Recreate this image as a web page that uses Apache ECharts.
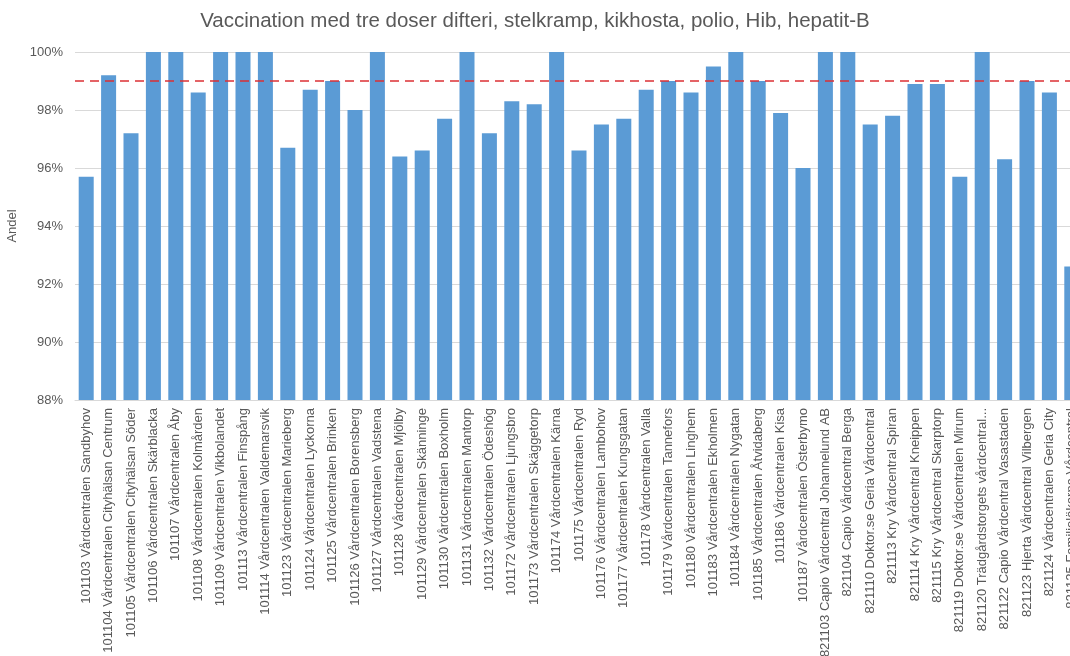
<!DOCTYPE html>
<html>
<head>
<meta charset="utf-8">
<script src="https://cdn.jsdelivr.net/npm/echarts@6/dist/echarts.min.js"></script>
<style>
	html, body { margin: 0; padding: 0; background: #fff; }
	#chart { width: 1070px; height: 656px; }
</style>
</head>
<body>
<div id="chart"></div>
<script>
var titleText = 'Vaccination med tre doser difteri, stelkramp, kikhosta, polio, Hib, hepatit-B';
var categories = [
	'101103 Vårdcentralen Sandbyhov',
	'101104 Vårdcentralen Cityhälsan Centrum',
	'101105 Vårdcentralen Cityhälsan Söder',
	'101106 Vårdcentralen Skärblacka',
	'101107 Vårdcentralen Åby',
	'101108 Vårdcentralen Kolmården',
	'101109 Vårdcentralen Vikbolandet',
	'101113 Vårdcentralen Finspång',
	'101114 Vårdcentralen Valdemarsvik',
	'101123 Vårdcentralen Marieberg',
	'101124 Vårdcentralen Lyckorna',
	'101125 Vårdcentralen Brinken',
	'101126 Vårdcentralen Borensberg',
	'101127 Vårdcentralen Vadstena',
	'101128 Vårdcentralen Mjölby',
	'101129 Vårdcentralen Skänninge',
	'101130 Vårdcentralen Boxholm',
	'101131 Vårdcentralen Mantorp',
	'101132 Vårdcentralen Ödeshög',
	'101172 Vårdcentralen Ljungsbro',
	'101173 Vårdcentralen Skäggetorp',
	'101174 Vårdcentralen Kärna',
	'101175 Vårdcentralen Ryd',
	'101176 Vårdcentralen Lambohov',
	'101177 Vårdcentralen Kungsgatan',
	'101178 Vårdcentralen Valla',
	'101179 Vårdcentralen Tannefors',
	'101180 Vårdcentralen Linghem',
	'101183 Vårdcentralen Ekholmen',
	'101184 Vårdcentralen Nygatan',
	'101185 Vårdcentralen Åtvidaberg',
	'101186 Vårdcentralen Kisa',
	'101187 Vårdcentralen Österbymo',
	'821103 Capio Vårdcentral Johannelund AB',
	'821104 Capio Vårdcentral Berga',
	'821110 Doktor.se Geria Vårdcentral',
	'821113 Kry Vårdcentral Spiran',
	'821114 Kry Vårdcentral Kneippen',
	'821115 Kry Vårdcentral Skarptorp',
	'821119 Doktor.se Vårdcentralen Mirum',
	'821120 Trädgårdstorgets vårdcentral...',
	'821122 Capio Vårdcentral Vasastaden',
	'821123 Hjerta Vårdcentral Vilbergen',
	'821124 Vårdcentralen Geria City',
	'821125 Familjeläkarna Vårdcentral'
];
var andel = [
	95.7, 99.2, 97.2, 100, 100, 98.6, 100, 100, 100, 96.7,
	98.7, 99.0, 98.0, 100, 96.4, 96.6, 97.7, 100, 97.2, 98.3,
	98.2, 100, 96.6, 97.5, 97.7, 98.7, 99.0, 98.6, 99.5, 100,
	99.0, 97.9, 96.0, 100, 100, 97.5, 97.8, 98.9, 98.9, 95.7,
	100, 96.3, 99.0, 98.6, 92.6
];
var targetLevel = 99;
var yTicks = { min: 88, max: 100, step: 2 };

var textColor = '#595959';
var fontFam = '"Liberation Sans", Arial, sans-serif';

var chart = echarts.init(document.getElementById('chart'));
var option = {
	animation: false,
	title: {
		text: titleText,
		left: 'center',
		top: 6,
		textStyle: { color: textColor, fontSize: 20.5, fontWeight: 'normal', fontFamily: fontFam }
	},
	grid: {
		left: 75,
		top: 52,
		bottom: 256,
		// the picture is cropped: the last bar runs off the right edge
		width: categories.length * 22.4,
		outerBoundsMode: 'none',
		containLabel: false
	},
	xAxis: {
		type: 'category',
		data: categories,
		axisTick: { show: false },
		axisLine: { lineStyle: { color: '#d9d9d9', width: 1 } },
		axisLabel: {
			interval: 0,
			rotate: 90,
			margin: 8,
			color: textColor,
			fontSize: 13,
			fontFamily: fontFam
		}
	},
	yAxis: {
		type: 'value',
		min: yTicks.min,
		max: yTicks.max,
		interval: yTicks.step,
		name: 'Andel',
		nameLocation: 'middle',
		nameGap: 50,
		nameTextStyle: { color: textColor, fontSize: 13, fontFamily: fontFam },
		axisLine: { show: false },
		axisTick: { show: false },
		axisLabel: {
			margin: 12,
			color: textColor,
			fontSize: 13,
			fontFamily: fontFam,
			formatter: function(v) { return v + '%'; }
		},
		splitLine: { lineStyle: { color: '#d9d9d9', width: 1 } }
	},
	series: [{
		name: 'Andel',
		type: 'bar',
		data: andel,
		barCategoryGap: '33%',
		itemStyle: { color: '#5b9bd5' },
		markLine: {
			silent: true,
			symbol: 'none',
			label: { show: false },
			lineStyle: { color: '#dc3035', width: 1.6, type: [9, 6] },
			data: [{ yAxis: targetLevel }]
		}
	}]
};
chart.setOption(option);
</script>
</body>
</html>
